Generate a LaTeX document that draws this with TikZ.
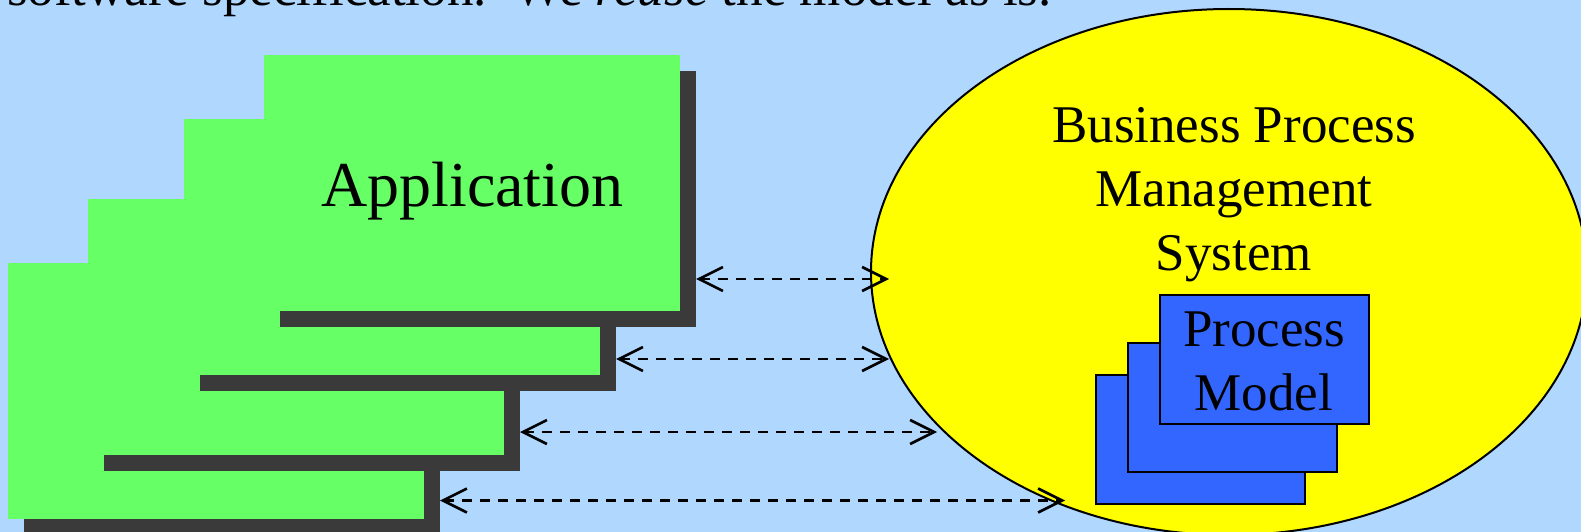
\documentclass[tikz,border=0pt]{standalone}
\usepackage{fontspec}
\setmainfont{Liberation Serif}
\usetikzlibrary{arrows.meta,shapes.geometric}
\definecolor{bgblue}{RGB}{176,216,255}
\definecolor{appgreen}{RGB}{102,255,102}
\definecolor{shadowgray}{RGB}{58,58,58}
\definecolor{bpmsyellow}{RGB}{255,255,0}
\definecolor{modelblue}{RGB}{51,102,255}
\begin{document}
\begin{tikzpicture}[x=1pt,y=-1pt,
  appbox/.style={fill=appgreen, draw=none, minimum width=416pt, minimum height=256pt,
    inner sep=0pt, outer sep=0pt, anchor=north west},
  appshadow/.style={appbox, fill=shadowgray},
  modelbox/.style={fill=modelblue, draw=black, line width=2pt, minimum width=208.5pt,
    minimum height=128.5pt, inner sep=0pt, outer sep=0pt, anchor=north west},
  bigtext/.style={font=\fontsize{53}{63.7}\selectfont, inner sep=0pt, outer sep=0pt},
  link/.style={dash pattern=on 10pt off 8pt, line width=2.6pt,
    {Straight Barb[length=24pt,width=24pt,line width=2.6pt]}-{Straight Barb[length=24pt,width=24pt,line width=2.6pt]}}
]
\useasboundingbox (0,0) rectangle (1581,532);
\fill[bgblue] (0,0) rectangle (1581,532);
\clip (0,0) rectangle (1581,532);

% heading line (cut off at the top, as in the reference)
\node[bigtext, anchor=base west] (intro) at (7,5.5)
  {software specification.\ \ We \textit{reuse} the model as is.};

% stacked applications
\node[appshadow] (s1) at (24,279) {};
\node[appbox]    (a1) at (8,263) {};
\node[appshadow] (s2) at (104,215) {};
\node[appbox]    (a2) at (88,199) {};
\node[appshadow] (s3) at (200,135) {};
\node[appbox]    (a3) at (184,119) {};
\node[appshadow] (s4) at (280,71) {};
\node[appbox]    (a4) at (264,55) {};
\node[font=\fontsize{64}{76}\selectfont, inner sep=0pt, anchor=base] (apptext) at (472.4,206.7) {Application};

% business process management system
\node[ellipse, draw=black, fill=bpmsyellow, line width=2pt, inner sep=0pt,
  minimum width=716pt, minimum height=526pt] (bpms) at (1229,272) {};
\node[bigtext, align=center] (bpmstext) at (1234,194.7) {Business Process\\Management\\System};

% process models
\node[modelbox] (m3) at (1096,375) {};
\node[modelbox] (m2) at (1128,343) {};
\node[modelbox] (m1) at (1160,295) {};
\node[bigtext, align=center] (mtext) at (1264,361.5) {Process\\Model};

% connectors
\coordinate (t1) at (889,279);
\coordinate (t2) at (889,359);
\coordinate (t3) at (937,432);
\coordinate (t4) at (1065,500.5);
\draw[link] (s4.east |- t1) -- (t1);
\draw[link] (s3.east |- t2) -- (t2);
\draw[link] (s2.east |- t3) -- (t3);
\draw[link] (s1.east |- t4) -- (t4);
\end{tikzpicture}
\end{document}
